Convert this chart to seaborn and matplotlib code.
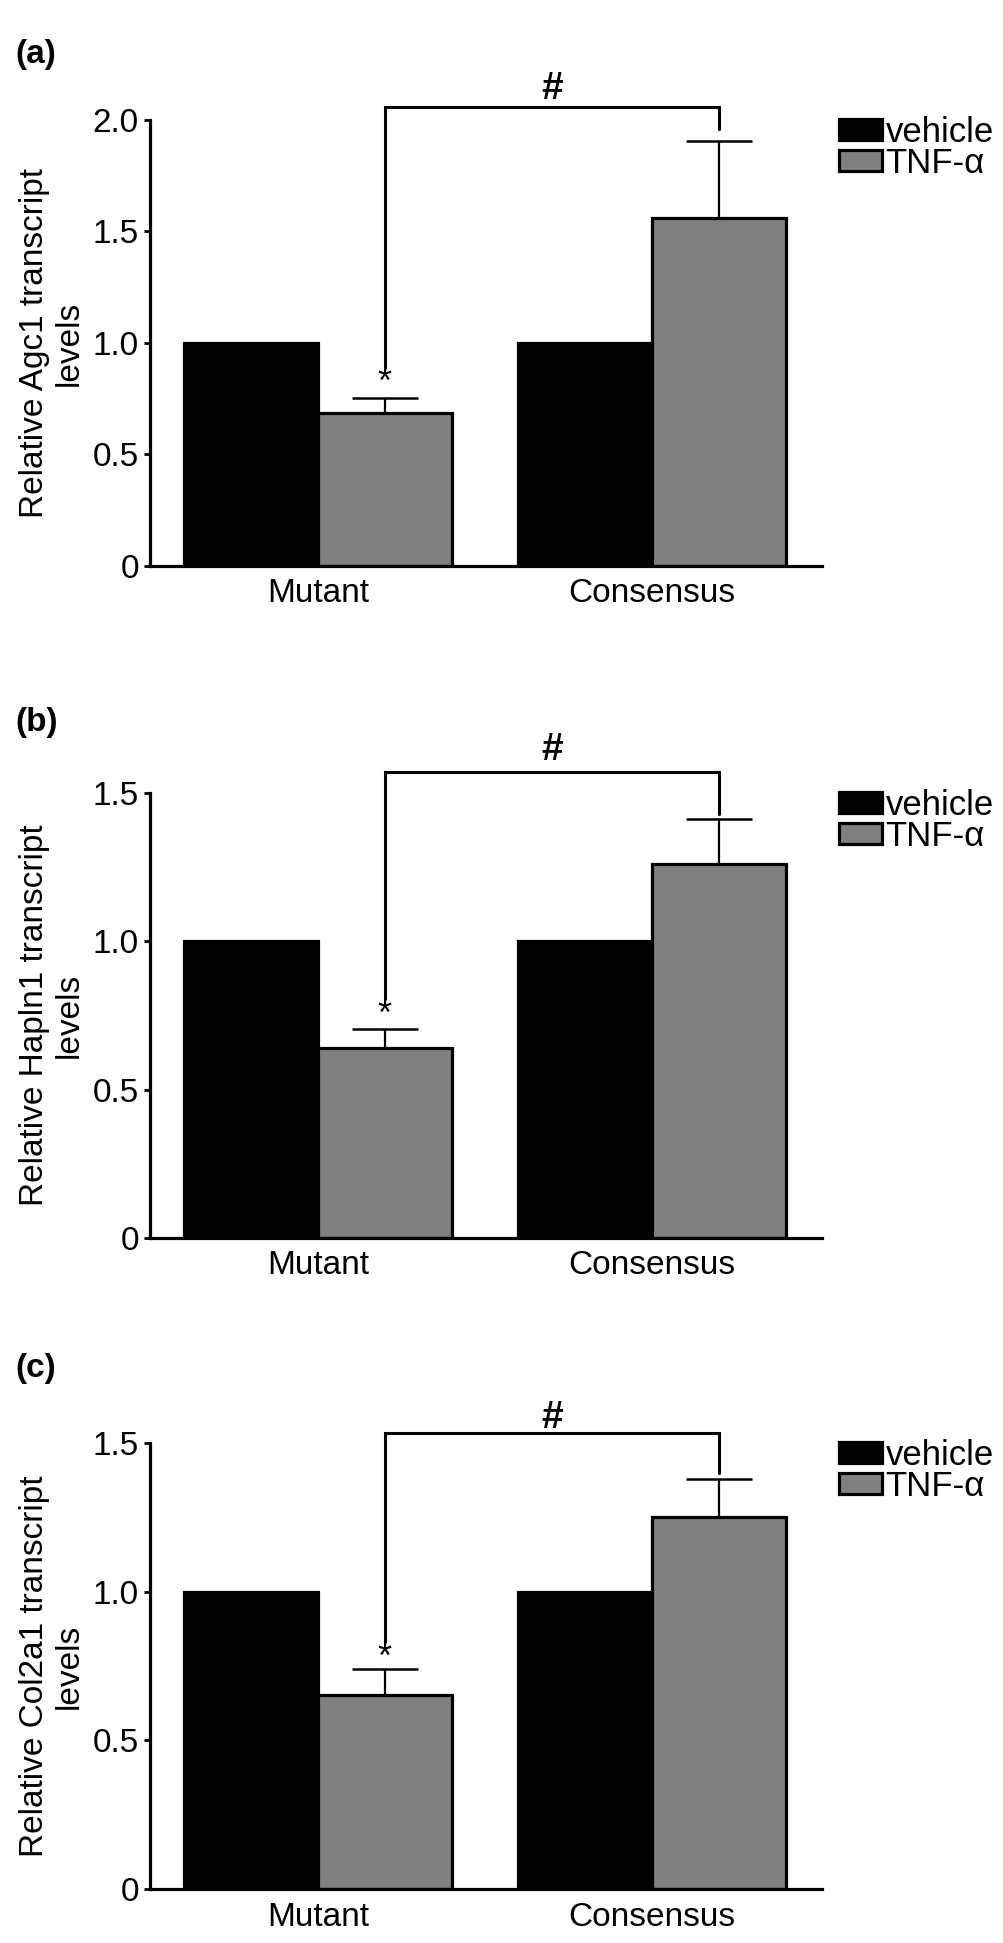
import numpy as np
import pandas as pd
import matplotlib
matplotlib.use("Agg")
import matplotlib.pyplot as plt
import seaborn as sns

# categories
groups = ["Mutant", "Consensus"]
treatments = ["vehicle", "TNF-α"]

# relative transcript levels (Mutant, Consensus), vehicle normalised to 1
agc1_vehicle = [1.0, 1.0]
agc1_tnf = [0.686, 1.562]
agc1_tnf_err = [0.067, 0.342]

hapln1_vehicle = [1.0, 1.0]
hapln1_tnf = [0.640, 1.261]
hapln1_tnf_err = [0.063, 0.150]

col2a1_vehicle = [1.0, 1.0]
col2a1_tnf = [0.654, 1.250]
col2a1_tnf_err = [0.085, 0.130]

genes = ["Agc1", "Hapln1", "Col2a1"]
panel_tags = ["(a)", "(b)", "(c)"]
y_tops = [2.0, 1.5, 1.5]
y_ticks = [[0, 0.5, 1.0, 1.5, 2.0], [0, 0.5, 1.0, 1.5], [0, 0.5, 1.0, 1.5]]
y_ticklabels = [["0", "0.5", "1.0", "1.5", "2.0"],
                ["0", "0.5", "1.0", "1.5"],
                ["0", "0.5", "1.0", "1.5"]]

# significance marks (data units)
bracket_top = [2.057, 1.572, 1.535]
bracket_left_end = [0.89, 0.805, 0.832]
bracket_right_end = [1.96, 1.43, 1.40]
star_y = [0.82, 0.751, 0.776]
hash_y = [2.14, 1.644, 1.584]

vehicle_vals = [agc1_vehicle, hapln1_vehicle, col2a1_vehicle]
tnf_vals = [agc1_tnf, hapln1_tnf, col2a1_tnf]
tnf_errs = [agc1_tnf_err, hapln1_tnf_err, col2a1_tnf_err]

sns.set_style("ticks")
plt.rcParams['font.family'] = ['Liberation Sans', 'DejaVu Sans']
for k in ['text.color', 'axes.labelcolor', 'xtick.color', 'ytick.color', 'axes.edgecolor']:
    plt.rcParams[k] = 'black'

W, H = 1004, 1943
fig = plt.figure(figsize=(W / 100, H / 100), dpi=100)

# axes boxes in pixels: (top, bottom)
boxes = [(120, 566), (793, 1238), (1443, 1889)]
tag_y = [55, 723, 1368]
ax_left, ax_right = 150, 822

palette = {"vehicle": "#000000", "TNF-α": "#808080"}

for i in range(3):
    top, bottom = boxes[i]
    ax = fig.add_axes([ax_left / W, 1 - bottom / H, (ax_right - ax_left) / W, (bottom - top) / H])

    df = pd.DataFrame({
        "group": groups * 2,
        "treatment": [treatments[0]] * 2 + [treatments[1]] * 2,
        "value": vehicle_vals[i] + tnf_vals[i],
    })
    sns.barplot(data=df, x="group", y="value", hue="treatment", order=groups,
                hue_order=treatments, palette=palette, edgecolor="black",
                linewidth=2.3, width=0.8, errorbar=None, legend=False, ax=ax)

    # centres of TNF bars from seaborn's containers
    tnf_bars = ax.containers[1]
    xs = [b.get_x() + b.get_width() / 2 for b in tnf_bars]
    errs = tnf_errs[i]
    ax.errorbar(xs, tnf_vals[i], yerr=[[0, 0], errs], fmt="none", ecolor="black",
                elinewidth=1.6, capsize=24, capthick=1.8, zorder=3)

    # bracket
    ax.plot([xs[0], xs[0], xs[1], xs[1]],
            [bracket_left_end[i], bracket_top[i], bracket_top[i], bracket_right_end[i]],
            color="black", lw=2.2, clip_on=False, solid_joinstyle="miter")
    ax.text(xs[0], star_y[i], "*", ha="center", va="center", fontsize=26)
    ax.text((xs[0] + xs[1]) / 2, hash_y[i], "#", ha="center", va="center",
            fontsize=28, fontweight="bold", clip_on=False)

    ax.set_xlim(-0.503, 1.509)
    ax.set_ylim(0, y_tops[i])
    ax.set_yticks(y_ticks[i])
    ax.set_yticklabels(y_ticklabels[i])
    ax.set_xlabel("")
    ax.set_ylabel(f"Relative {genes[i]} transcript\nlevels", fontsize=24,
                  linespacing=1.15, labelpad=6)
    sns.despine(ax=ax)
    for s in ["left", "bottom"]:
        ax.spines[s].set_linewidth(2.3)
    ax.tick_params(axis="y", length=4, width=2, pad=4, labelsize=24)
    ax.tick_params(axis="x", length=0, pad=9, labelsize=24)

    ax.legend(handles=list(ax.containers), labels=treatments, loc="upper left",
              bbox_to_anchor=(1.025, 1.01), frameon=False, fontsize=25,
              handlelength=1.25, handleheight=0.55, handletextpad=0.1,
              labelspacing=-0.05, borderpad=0, borderaxespad=0)

    fig.text(15 / W, 1 - tag_y[i] / H, panel_tags[i], ha="left", va="center",
             fontsize=24, fontweight="bold")

fig.savefig("out.png", dpi=100)
